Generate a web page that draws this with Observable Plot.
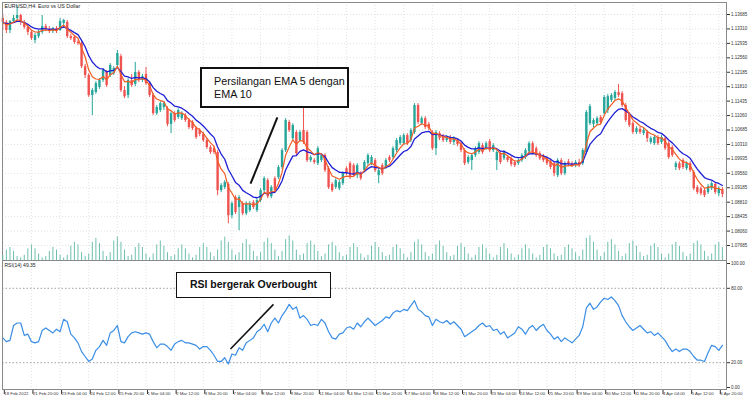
<!DOCTYPE html>
<html><head><meta charset="utf-8">
<script src="https://cdn.jsdelivr.net/npm/d3@7"></script>
<script src="https://cdn.jsdelivr.net/npm/@observablehq/plot@0.6"></script>
<style>
body{margin:0;background:#fff;}
#wrap{position:relative;width:750px;height:399px;overflow:hidden;background:#fff;font-family:"Liberation Sans",Arial,sans-serif;}
.layer{position:absolute;left:0;}
.note{position:absolute;box-sizing:border-box;background:#fff;border:2px solid #111;color:#111;white-space:nowrap;font-family:"Liberation Sans",Arial,sans-serif;}
</style></head><body>
<div id="wrap">
  <div id="price" class="layer" style="top:0"></div>
  <div id="vol" class="layer" style="top:0"></div>
  <div id="rsi" class="layer" style="top:260px"></div>
  <div class="note" style="left:200px;top:67px;width:149px;height:41px;padding:6px 0 0 12px;font-size:10.8px;line-height:12.5px;">Persilangan EMA 5 dengan<br>EMA 10</div>
  <div class="note" style="left:176px;top:272px;width:155px;height:26px;font-size:10.5px;font-weight:bold;line-height:22px;text-align:center;border-width:1.5px;">RSI bergerak Overbought</div>
</div>
<script>
const chartTitle = "EURUSD,H4: Euro vs US Dollar";
const rsiTitle = "RSI(14) 49.35";

const xLabels = ["18 Feb 2022","21 Feb 20:00","23 Feb 04:00","24 Feb 12:00","25 Feb 20:00","1 Mar 04:00","2 Mar 12:00","3 Mar 20:00","7 Mar 04:00","8 Mar 12:00","9 Mar 20:00","11 Mar 04:00","14 Mar 12:00","15 Mar 20:00","17 Mar 04:00","18 Mar 12:00","21 Mar 20:00","23 Mar 04:00","24 Mar 12:00","25 Mar 20:00","29 Mar 04:00","30 Mar 12:00","31 Mar 20:00","4 Apr 04:00","5 Apr 12:00","6 Apr 20:00"];
const xTickBars = [0,8,16,24,32,40,48,56,64,72,80,88,96,104,112,120,128,136,144,152,160,168,176,184,192,200];

const priceTicks = [1.13685,1.13310,1.12935,1.12560,1.12185,1.11810,1.11435,1.11060,1.10685,1.10310,1.09935,1.09560,1.09185,1.08810,1.08435,1.08060,1.07685];
const rsiTicks = [0,20,80,100];
const rsiLevels = [20,80];

const open = [1.1358,1.1348,1.1327,1.1350,1.1358,1.1366,1.1348,1.1335,1.1322,1.1301,
1.1311,1.1322,1.1337,1.1330,1.1324,1.1332,1.1327,1.1345,1.1348,1.1311,
1.1309,1.1296,1.1293,1.1233,1.1210,1.1158,1.1166,1.1179,1.1197,1.1218,
1.1210,1.1215,1.1236,1.1259,1.1171,1.1158,1.1197,1.1187,1.1218,1.1197,
1.1213,1.1189,1.1158,1.1111,1.1119,1.1127,1.1124,1.1083,1.1111,1.1101,
1.1098,1.1106,1.1093,1.1088,1.1072,1.1067,1.1057,1.1041,1.1023,1.1020,
1.1010,1.0911,1.0919,1.0927,1.0846,1.0893,1.0867,1.0877,1.0851,1.0859,
1.0880,1.0859,1.0885,1.0911,1.0937,1.0895,1.0942,1.0945,1.0971,1.1015,
1.1088,1.1046,1.1062,1.1041,1.1067,1.1062,1.0989,1.0989,1.0981,1.0989,
1.1002,1.0968,1.0927,1.0919,1.0916,1.0929,1.0968,1.0981,1.0976,1.0950,
1.0955,1.0963,1.0981,1.0981,1.0989,1.0950,1.0976,1.0971,1.0997,1.0997,
1.1015,1.1033,1.1033,1.1054,1.1041,1.1062,1.1132,1.1085,1.1098,1.1083,
1.1062,1.1020,1.1059,1.1051,1.1041,1.1049,1.1036,1.1041,1.1033,1.1015,
1.0984,1.0989,1.1002,1.1010,1.1028,1.1020,1.1038,1.1015,1.0989,1.1007,
1.0994,1.0997,1.0994,1.0984,1.0981,1.0989,1.0997,1.1012,1.1033,1.1020,
1.1007,1.0999,1.0994,1.0986,1.0981,1.0950,1.0989,1.0955,1.0986,1.0981,
1.0976,1.0984,1.0981,1.1010,1.1085,1.1083,1.1085,1.1101,1.1111,1.1119,
1.1145,1.1150,1.1166,1.1163,1.1132,1.1109,1.1085,1.1062,1.1070,1.1059,
1.1062,1.1036,1.1033,1.1049,1.1036,1.1046,1.1033,1.1023,1.0971,1.0981,
1.0989,1.0968,1.0981,1.0958,1.0919,1.0916,1.0911,1.0906,1.0916,1.0927,
1.0903,1.0914];

const high = [1.1369,1.1353,1.1353,1.1366,1.1392,1.1369,1.1353,1.1340,1.1327,1.1319,
1.1327,1.1366,1.1343,1.1337,1.1335,1.1337,1.1358,1.1356,1.1353,1.1317,
1.1314,1.1301,1.1298,1.1239,1.1215,1.1176,1.1194,1.1202,1.1228,1.1223,
1.1241,1.1233,1.1275,1.1265,1.1181,1.1202,1.1213,1.1244,1.1223,1.1213,
1.1231,1.1194,1.1163,1.1132,1.1142,1.1142,1.1129,1.1116,1.1116,1.1124,
1.1116,1.1111,1.1098,1.1093,1.1077,1.1072,1.1062,1.1046,1.1028,1.1025,
1.1015,1.0929,1.0937,1.0932,1.0882,1.0898,1.0898,1.0882,1.0882,1.0882,
1.0885,1.0890,1.0916,1.0947,1.0942,1.0924,1.0947,1.0976,1.1020,1.1098,
1.1093,1.1085,1.1067,1.1067,1.1137,1.1067,1.1002,1.0994,1.1025,1.1007,
1.1007,1.0973,1.0932,1.0942,1.0937,1.0960,1.0973,1.0986,1.0981,1.0981,
1.0960,1.0989,1.1007,1.1002,1.0994,1.0968,1.0981,1.0994,1.1002,1.1025,
1.1046,1.1054,1.1059,1.1059,1.1072,1.1137,1.1137,1.1103,1.1103,1.1088,
1.1067,1.1067,1.1064,1.1057,1.1054,1.1054,1.1051,1.1046,1.1038,1.1020,
1.1002,1.1007,1.1025,1.1038,1.1033,1.1038,1.1044,1.1033,1.1015,1.1012,
1.1015,1.1002,1.0999,1.0989,1.0994,1.1007,1.1020,1.1038,1.1038,1.1025,
1.1012,1.1005,1.0999,1.0992,1.0986,1.0994,1.0994,1.0986,1.0992,1.0986,
1.0989,1.0992,1.1020,1.1119,1.1135,1.1098,1.1103,1.1106,1.1158,1.1161,
1.1163,1.1171,1.1187,1.1168,1.1137,1.1114,1.1090,1.1077,1.1075,1.1072,
1.1067,1.1051,1.1054,1.1054,1.1054,1.1051,1.1038,1.1028,1.0986,1.0986,
1.0994,1.0986,1.0986,1.0963,1.0924,1.0921,1.0916,1.0927,1.0934,1.0932,
1.0921,1.0919];

const low = [1.1327,1.1319,1.1319,1.1348,1.1353,1.1340,1.1330,1.1314,1.1301,1.1293,
1.1306,1.1317,1.1324,1.1319,1.1319,1.1319,1.1324,1.1332,1.1306,1.1301,
1.1291,1.1288,1.1228,1.1202,1.1153,1.1106,1.1161,1.1174,1.1192,1.1179,
1.1205,1.1210,1.1231,1.1166,1.1150,1.1150,1.1179,1.1181,1.1192,1.1192,
1.1184,1.1153,1.1106,1.1106,1.1114,1.1119,1.1077,1.1059,1.1088,1.1096,
1.1093,1.1088,1.1070,1.1067,1.1044,1.1051,1.1036,1.1018,1.1005,1.1005,
1.0898,1.0906,1.0914,1.0825,1.0838,1.0849,1.0807,1.0846,1.0846,1.0854,
1.0862,1.0854,1.0880,1.0906,1.0890,1.0890,1.0906,1.0940,1.0966,1.1010,
1.1062,1.1041,1.1002,1.1036,1.1031,1.0984,1.0984,1.0979,1.0976,1.0984,
1.0958,1.0914,1.0906,1.0914,1.0911,1.0924,1.0950,1.0940,1.0945,1.0942,
1.0937,1.0958,1.0976,1.0976,1.0958,1.0929,1.0950,1.0966,1.0984,1.0992,
1.1010,1.1028,1.1028,1.1028,1.1036,1.1057,1.1083,1.1080,1.1070,1.1067,
1.1015,1.1002,1.1041,1.1036,1.1036,1.1031,1.1028,1.1025,1.1010,1.0976,
1.0979,1.0963,1.0997,1.1005,1.1005,1.1015,1.1010,1.1010,1.0963,1.0979,
1.0989,1.0984,1.0973,1.0971,1.0976,1.0984,1.0992,1.1007,1.1005,1.0997,
1.0989,1.0984,1.0976,1.0966,1.0947,1.0945,1.0950,1.0950,1.0973,1.0971,
1.0971,1.0971,1.0976,1.1005,1.1080,1.1075,1.1080,1.1083,1.1106,1.1111,
1.1140,1.1145,1.1153,1.1127,1.1088,1.1075,1.1057,1.1057,1.1057,1.1054,
1.1036,1.1031,1.1028,1.1028,1.1031,1.1015,1.0992,1.0997,1.0963,1.0963,
1.0966,1.0963,1.0958,1.0911,1.0901,1.0898,1.0893,1.0901,1.0911,1.0901,
1.0895,1.0893];

const close = [1.1348,1.1327,1.1350,1.1358,1.1366,1.1348,1.1335,1.1322,1.1306,1.1314,
1.1322,1.1337,1.1330,1.1324,1.1332,1.1324,1.1350,1.1353,1.1311,1.1306,
1.1296,1.1293,1.1233,1.1210,1.1158,1.1171,1.1189,1.1197,1.1223,1.1184,
1.1236,1.1228,1.1267,1.1171,1.1155,1.1197,1.1184,1.1218,1.1197,1.1207,
1.1189,1.1158,1.1111,1.1127,1.1137,1.1137,1.1083,1.1111,1.1093,1.1119,
1.1111,1.1093,1.1075,1.1072,1.1049,1.1057,1.1041,1.1023,1.1010,1.1010,
1.0911,1.0924,1.0932,1.0846,1.0877,1.0854,1.0893,1.0851,1.0877,1.0877,
1.0867,1.0885,1.0911,1.0942,1.0895,1.0919,1.0911,1.0971,1.1015,1.1093,
1.1067,1.1080,1.1007,1.1062,1.1036,1.0989,1.0997,1.0984,1.1020,1.1002,
1.0963,1.0919,1.0911,1.0937,1.0932,1.0955,1.0955,1.0945,1.0950,1.0976,
1.0942,1.0984,1.1002,1.0997,1.0963,1.0963,1.0955,1.0989,1.0989,1.1020,
1.1041,1.1049,1.1054,1.1033,1.1067,1.1132,1.1088,1.1098,1.1075,1.1072,
1.1020,1.1062,1.1046,1.1041,1.1049,1.1036,1.1046,1.1031,1.1015,1.0981,
1.0997,1.1002,1.1020,1.1033,1.1010,1.1033,1.1015,1.1028,1.1010,1.0984,
1.1010,1.0989,1.0979,1.0976,1.0989,1.1002,1.1015,1.1033,1.1010,1.1002,
1.0994,1.0989,1.0981,1.0971,1.0955,1.0989,1.0955,1.0981,1.0979,1.0976,
1.0984,1.0976,1.1015,1.1114,1.1129,1.1093,1.1098,1.1088,1.1153,1.1155,
1.1158,1.1166,1.1158,1.1132,1.1093,1.1080,1.1062,1.1072,1.1062,1.1067,
1.1046,1.1046,1.1049,1.1033,1.1049,1.1020,1.0997,1.1002,1.0981,1.0968,
1.0971,1.0981,1.0963,1.0916,1.0906,1.0903,1.0898,1.0921,1.0929,1.0906,
1.0916,1.0901];

const volume = [4,8,10,7,3,2, 4,9,12,9,5,2,
3,7,10,8,4,2, 4,11,14,12,6,3,
5,14,17,13,7,3, 6,15,18,14,8,3,
4,10,13,10,5,2, 5,12,15,11,6,3,
4,9,12,9,5,2, 4,10,13,10,6,3,
8,15,18,14,8,4, 6,13,16,12,7,3,
6,14,17,13,8,3, 7,16,19,15,8,4,
5,13,15,12,7,3, 5,12,14,11,6,3,
4,10,13,10,5,2, 4,11,14,10,6,3,
4,10,12,9,5,2, 6,14,16,12,6,3,
5,12,15,11,6,3, 4,11,13,10,5,2,
4,10,12,9,5,2, 4,10,13,9,5,2,
4,9,12,9,5,2, 4,10,12,9,5,3,
4,10,12,9,6,3, 8,17,19,14,8,3,
6,14,16,12,7,3, 5,13,15,11,6,3,
4,11,13,10,5,2, 5,12,14,11,6,3,
5,13,15,12,7,3, 5,12,14,10];

const rsi = [40,37,38,50,52,52,42,43,37,36,
37,46,48,46,44,47,45,55,53,43,
40,36,29,25,21,23,30,33,38,34,
44,46,50,37,36,41,44,45,44,43,
44,43,37,32,35,35,33,30,35,37,
38,36,36,35,34,31,33,33,30,26,
21,21,24,19,27,26,32,30,36,38,
40,45,47,51,45,52,56,52,58,62,
67,63,65,56,58,55,50,51,50,55,
52,45,40,39,43,44,48,49,47,52,
49,53,56,53,50,52,54,57,56,60,
62,61,63,62,66,70,63,61,58,57,
50,55,53,52,54,51,53,50,47,41,
43,45,47,50,52,49,50,46,47,43,
45,40,42,44,49,47,43,48,50,46,
49,51,46,43,39,41,37,40,38,36,
39,42,49,64,68,63,65,69,72,71,
73,70,66,58,53,49,46,48,50,47,
44,45,42,44,41,38,33,29,31,29,
31,31,29,25,22,22,21,28,34,33,
30,34];

// annotation pointer ends (bar index, value)
const emaNoteBars = [76.7, 69.2];
const emaNotePrices = [1.1101, 1.0929];
const rsiNoteBars = [75.6, 63.6];
const rsiNoteValues = [67, 31];

const UP = "#26a69a", DN = "#ef5350";
const FONT = "'Liberation Sans', Arial, sans-serif";
const xDomain = [-0.084, 202.15], xRange = [2, 726];

function ema(vals, n) {
  const a = 2 / (n + 1);
  let e = vals[0];
  return vals.map((v, i) => i === 0 ? e : (e = a * v + (1 - a) * e));
}
const ema5 = ema(close, 5);
const ema10 = ema(close, 10);

const bars = close.map((c, i) => ({i, open: open[i], high: high[i], low: low[i], close: c, up: c >= open[i], e5: ema5[i], e10: ema10[i]}));
const volRows = volume.map((v, i) => ({i, v}));
const rsiRows = rsi.map((v, i) => ({i, v}));
const emaNote = [{x1: emaNoteBars[0], y1: emaNotePrices[0], x2: emaNoteBars[1], y2: emaNotePrices[1]}];
const rsiNote = [{x1: rsiNoteBars[0], y1: rsiNoteValues[0], x2: rsiNoteBars[1], y2: rsiNoteValues[1]}];
const labelOf = d => xLabels[xTickBars.indexOf(d)];

const gridStyle = {stroke: "#e2e2e2", strokeOpacity: 1, strokeDasharray: "1,2"};

const pricePlot = Plot.plot({
  width: 750, height: 260,
  marginTop: 2, marginBottom: 0, marginLeft: 2, marginRight: 24,
  x: {domain: xDomain, range: xRange, axis: null},
  y: {domain: [1.07685, 1.13685], range: [245, 14]},
  style: {background: "transparent", fontFamily: FONT, fontSize: "4.5px", color: "#333", overflow: "visible"},
  marks: [
    Plot.gridX(xTickBars, gridStyle),
    Plot.gridY(priceTicks, gridStyle),
    Plot.ruleX(bars, {x: "i", y1: "low", y2: "high", stroke: d => d.up ? UP : DN, strokeWidth: 1}),
    Plot.ruleX(bars, {x: "i", y1: "open", y2: "close", stroke: d => d.up ? UP : DN, strokeWidth: 2.4}),
    Plot.line(bars, {x: "i", y: "e10", stroke: "#1f1fd6", strokeWidth: 1.3}),
    Plot.line(bars, {x: "i", y: "e5", stroke: "#f05d23", strokeWidth: 1.2}),
    Plot.axisY(priceTicks, {anchor: "right", tickFormat: d3.format(".5f"), tickSize: 3, tickPadding: 1.5, fontSize: 4.5, label: null}),
    Plot.frame({stroke: "#8a8a8a"}),
    Plot.text([chartTitle], {frameAnchor: "top-left", dx: 2, dy: 2, fontSize: 5.3, fill: "#222"}),
    Plot.link(emaNote, {x1: "x1", y1: "y1", x2: "x2", y2: "y2", stroke: "#111", strokeWidth: 2})
  ]
});
document.getElementById("price").appendChild(pricePlot);

const volPlot = Plot.plot({
  width: 750, height: 260,
  marginTop: 2, marginBottom: 0, marginLeft: 2, marginRight: 24,
  x: {domain: xDomain, range: xRange, axis: null},
  y: {domain: [0, 20], range: [260, 234], axis: null},
  style: {background: "transparent"},
  marks: [
    Plot.ruleX(volRows, {x: "i", y1: 0, y2: "v", stroke: "#6fbfae", strokeWidth: 1})
  ]
});
document.getElementById("vol").appendChild(volPlot);

const rsiPlot = Plot.plot({
  width: 750, height: 139,
  marginTop: 0, marginBottom: 10, marginLeft: 2, marginRight: 24,
  x: {domain: xDomain, range: xRange},
  y: {domain: [0, 100], range: [127, 3]},
  style: {background: "transparent", fontFamily: FONT, fontSize: "4.5px", color: "#333", overflow: "visible"},
  marks: [
    Plot.gridX(xTickBars, gridStyle),
    Plot.ruleY(rsiLevels, {stroke: "#a0a0a0", strokeDasharray: "1.5,2"}),
    Plot.line(rsiRows, {x: "i", y: "v", stroke: "#3a8ee6", strokeWidth: 1.2}),
    Plot.axisY(rsiTicks, {anchor: "right", tickFormat: d => d.toFixed(2), tickSize: 3, tickPadding: 1.5, fontSize: 4.5, label: null}),
    Plot.axisX(xTickBars, {anchor: "bottom", tickFormat: labelOf, textAnchor: "start", tickSize: 5, tickPadding: -3, dx: 1.5, fontSize: 4.3, label: null}),
    Plot.frame({stroke: "#8a8a8a"}),
    Plot.text([rsiTitle], {frameAnchor: "top-left", dx: 2, dy: 3, fontSize: 5, fill: "#222"}),
    Plot.link(rsiNote, {x1: "x1", y1: "y1", x2: "x2", y2: "y2", stroke: "#111", strokeWidth: 1.6})
  ]
});
document.getElementById("rsi").appendChild(rsiPlot);
</script>
</body></html>
